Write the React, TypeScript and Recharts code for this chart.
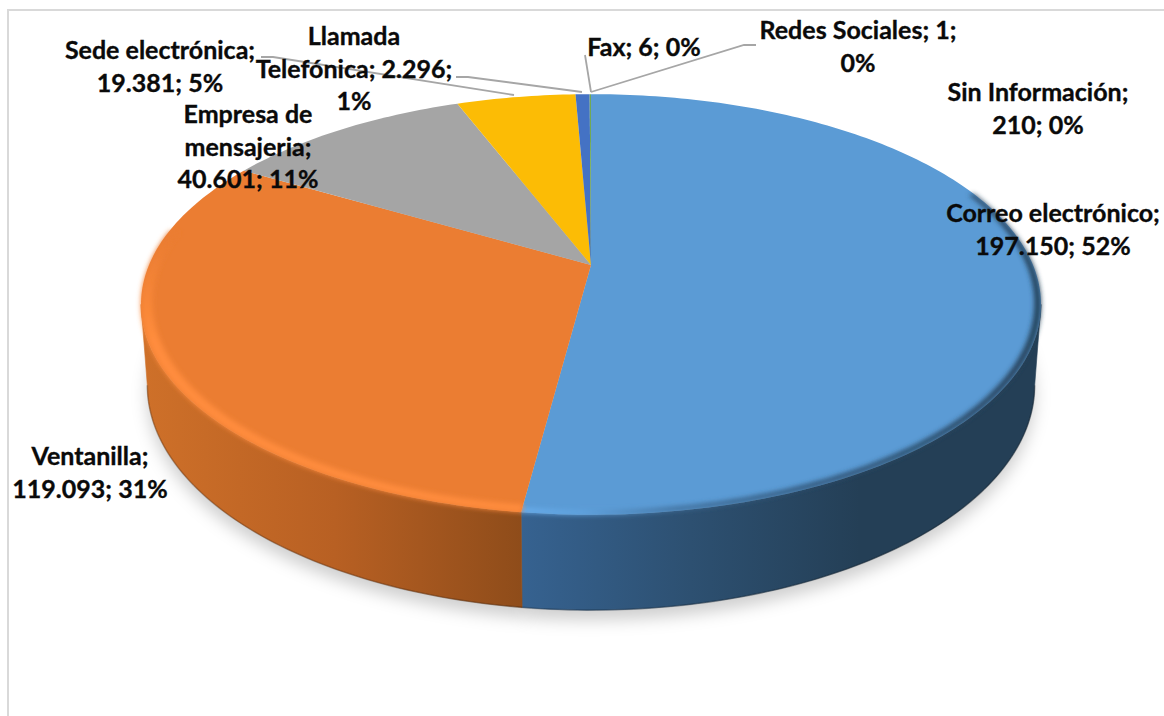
import React from 'react';
import { PieChart, Pie } from 'recharts';

// Perspective pie of requests per channel, with a raised wall and bevelled rim

const channels = [
  'Correo electrónico',
  'Ventanilla',
  'Empresa de mensajeria',
  'Sede electrónica',
  'Llamada Telefónica',
  'Sin Información',
  'Fax',
  'Redes Sociales',
];
const requests = [197150, 119093, 40601, 19381, 2296, 210, 6, 1];
const sliceColors = ['#5B9BD5', '#EB7D32', '#A5A5A5', '#FCBC05', '#4472C4', '#70AD47', '#255E91', '#9E480E'];

const rows = channels.map((name, i) => ({ name, value: requests[i], fill: sliceColors[i] }));

// label text wrapping, leader lines and placement per channel
const labelLayout: Record<string, any> = {
  'Correo electrónico': { x: 1053, y: 212, lines: (n, v, p) => [`${n};`, `${v}; ${p}`] },
  Ventanilla: { x: 90, y: 455, lines: (n, v, p) => [`${n};`, `${v}; ${p}`] },
  'Empresa de mensajeria': { x: 248, y: 113, lines: (n, v, p) => ['Empresa de', 'mensajeria;', `${v}; ${p}`] },
  'Sede electrónica': {
    x: 160,
    y: 49,
    lines: (n, v, p) => [`${n};`, `${v}; ${p}`],
    leader: '261,57 273,57 514,95',
  },
  'Llamada Telefónica': {
    x: 354,
    y: 35,
    lines: (n, v, p) => ['Llamada', `Telefónica; ${v};`, p],
    leader: '456,77 468,77 582,92',
  },
  'Sin Información': { x: 1038, y: 91, lines: (n, v, p) => [`${n};`, `${v}; ${p}`] },
  Fax: { x: 644, y: 46, lines: (n, v, p) => [`${n}; ${v}; ${p}`], leader: '585,55 591,92' },
  'Redes Sociales': {
    x: 858,
    y: 29,
    lines: (n, v, p) => [`${n}; ${v};`, p],
    leader: '756,45 744,45 591,92',
  },
};

const wallFills: Record<string, string> = {
  'Correo electrónico': 'url(#wallBlue)',
  Ventanilla: 'url(#wallOrange)',
};

// clockwise degrees from twelve o'clock where the bevel is drawn
const rimRanges: Record<string, any> = {
  'Correo electrónico': { from: 68, frac: 0.986, fill: 'url(#rimBlue)', filter: 'url(#softRimWide)' },
  Ventanilla: { to: 280, frac: 0.975, fill: 'url(#rimOrange)', filter: 'url(#softRimWide)' },
};

const TILT = 0.1876; // perspective strength
const TOP_PLANE = { dy: 0, sx: 1, sy: 0.459 };
const BOTTOM_PLANE = { dy: 78, sx: 0.986, sy: 0.491 };
const WALL_FROM = 100.8; // where the wall meets the silhouette
const WALL_TO = 259.2;

const formatValue = (v: number) => String(v).replace(/\B(?=(\d{3})+$)/g, '.');

function project(cx, cy, r, clockDeg, frac, plane) {
  const a = (clockDeg * Math.PI) / 180;
  const u = frac * Math.sin(a);
  const v = frac * Math.cos(a);
  const w = 1 + TILT * v;
  return [cx + (r * plane.sx * u) / w, cy + plane.dy - (r * plane.sy * v) / w];
}

function arc(cx, cy, r, from, to, frac, plane) {
  const steps = Math.max(2, Math.ceil(Math.abs(to - from)));
  const pts = [];
  for (let i = 0; i <= steps; i++) {
    pts.push(project(cx, cy, r, from + ((to - from) * i) / steps, frac, plane));
  }
  return pts;
}

const toLine = (pts) => `M${pts.map((p) => `${p[0].toFixed(2)},${p[1].toFixed(2)}`).join('L')}`;
const toPath = (pts) => `${toLine(pts)}Z`;

function clockRange(props) {
  return [90 - props.startAngle, 90 - props.endAngle];
}

function ShadowSlice(props) {
  const { cx, cy, outerRadius } = props;
  const [from, to] = clockRange(props);
  const pts = [[cx, cy + BOTTOM_PLANE.dy + 8], ...arc(cx, cy + 10, outerRadius, from, to, 1, BOTTOM_PLANE)];
  return <path d={toPath(pts)} fill="#000" fillOpacity={0.19} filter="url(#softShadow)" />;
}

function WallSlice(props) {
  const { cx, cy, outerRadius, name } = props;
  const [start, end] = clockRange(props);
  const from = Math.max(start, WALL_FROM);
  const to = Math.min(end, WALL_TO);
  if (to <= from) return <g />;
  const fill = wallFills[name] || props.fill;
  const upper = arc(cx, cy, outerRadius, from, to, 1, TOP_PLANE);
  const lower = arc(cx, cy, outerRadius, from, to, 1, BOTTOM_PLANE);
  return (
    <g>
      <path d={toPath([...upper, ...[...lower].reverse()])} fill={fill} stroke={fill} strokeWidth={0.6} />
      <path d={toLine(lower)} fill="none" stroke="#000" strokeOpacity={0.22} strokeWidth={1.6} />
    </g>
  );
}

function TopSlice(props) {
  const { cx, cy, outerRadius, name, fill } = props;
  const [start, end] = clockRange(props);
  const face = [[cx, cy], ...arc(cx, cy, outerRadius, start, end, 1, TOP_PLANE)];
  const rim = rimRanges[name];
  let band = null;
  if (rim) {
    const from = rim.from ?? start;
    const to = rim.to ?? end;
    const outer = arc(cx, cy, outerRadius, from, to, 1, TOP_PLANE);
    const inner = arc(cx, cy, outerRadius, from, to, rim.frac, TOP_PLANE).reverse();
    band = <path d={toPath([...outer, ...inner])} fill={rim.fill} filter={rim.filter} />;
  }
  return (
    <g>
      <path d={toPath(face)} fill={fill} />
      {band}
    </g>
  );
}

function SliceLabel(props) {
  const { name, value, percent } = props;
  const layout = labelLayout[name];
  const lines = layout.lines(name, formatValue(value), `${Math.round(percent * 100)}%`);
  return (
    <g>
      {layout.leader && <polyline points={layout.leader} fill="none" stroke="#A6A6A6" strokeWidth={1.8} />}
      <text
        x={layout.x}
        y={layout.y}
        textAnchor="middle"
        fontFamily="Lato, sans-serif"
        fontWeight={700}
        fontSize={25}
        fill="#0A0A0A"
        stroke="#0A0A0A"
        strokeWidth={0.35}
      >
        {lines.map((line, i) => (
          <tspan key={line} x={layout.x} y={layout.y + i * 32.6} dominantBaseline="central">
            {line}
          </tspan>
        ))}
      </text>
    </g>
  );
}

const pieProps = {
  data: rows,
  dataKey: 'value',
  nameKey: 'name',
  cx: 591,
  cy: 265,
  innerRadius: 0,
  outerRadius: 442,
  startAngle: 90,
  endAngle: -270,
  stroke: 'none',
  isAnimationActive: false,
};

export default function App() {
  return (
    <div style={{ position: 'fixed', left: 0, top: 0, width: 1164, height: 716, background: '#fff', overflow: 'hidden' }}>
      <div
        style={{
          position: 'absolute',
          left: 7,
          top: 9,
          width: 1200,
          height: 800,
          borderLeft: '2px solid #D9D9D9',
          borderTop: '2px solid #D9D9D9',
        }}
      />
      <div style={{ position: 'absolute', left: 0, top: 0 }}>
        <PieChart width={1164} height={716} margin={{ top: 0, right: 0, bottom: 0, left: 0 }}>
          <defs>
            <linearGradient id="wallBlue" gradientUnits="userSpaceOnUse" x1="522" y1="0" x2="860" y2="0">
              <stop offset="0" stopColor="#366290" />
              <stop offset="0.5" stopColor="#2D5071" />
              <stop offset="1" stopColor="#243F56" />
            </linearGradient>
            <linearGradient id="wallOrange" gradientUnits="userSpaceOnUse" x1="145" y1="0" x2="524" y2="0">
              <stop offset="0" stopColor="#CE7029" />
              <stop offset="0.5" stopColor="#B86023" />
              <stop offset="1" stopColor="#8E4C1A" />
            </linearGradient>
            <linearGradient id="rimBlue" gradientUnits="userSpaceOnUse" x1="522" y1="0" x2="1041" y2="0">
              <stop offset="0" stopColor="#6BB0EF" />
              <stop offset="0.12" stopColor="#5FA2DE" />
              <stop offset="0.3" stopColor="#3E6C97" />
              <stop offset="0.55" stopColor="#2B4D6C" />
              <stop offset="1" stopColor="#243F56" />
            </linearGradient>
            <linearGradient id="rimOrange" gradientUnits="userSpaceOnUse" x1="0" y1="240" x2="0" y2="340">
              <stop offset="0" stopColor="#EB7D32" />
              <stop offset="1" stopColor="#FF8C3C" />
            </linearGradient>
            <filter id="softShadow" filterUnits="userSpaceOnUse" x="0" y="0" width="1164" height="716">
              <feGaussianBlur stdDeviation="8" />
            </filter>
            <filter id="softRimWide" filterUnits="userSpaceOnUse" x="0" y="0" width="1164" height="716">
              <feGaussianBlur stdDeviation="2.4" />
            </filter>
          </defs>
          <Pie {...pieProps} shape={ShadowSlice} />
          <Pie {...pieProps} shape={WallSlice} />
          <Pie {...pieProps} shape={TopSlice} label={SliceLabel} labelLine={false} />
        </PieChart>
      </div>
    </div>
  );
}
